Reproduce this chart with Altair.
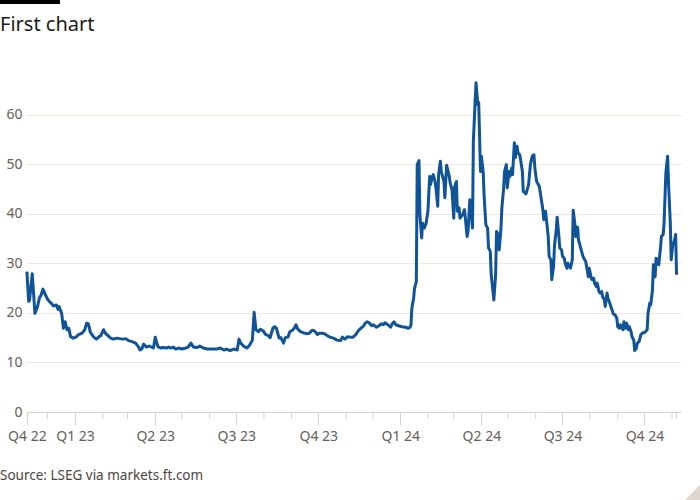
import altair as alt
import pandas as pd

# ---- data ----
START = "2022-11-08"
DAYS = [0, 2, 3, 6, 7, 9, 12, 14, 16, 18, 21, 23, 25, 27, 30, 33, 35, 36, 39, 41,
        43, 45, 47, 49, 52, 55, 58, 62, 65, 67, 69, 71, 73, 75, 78, 81, 83, 86, 88, 91,
        94, 97, 101, 104, 108, 111, 114, 118, 122, 125, 127, 129, 131, 134, 137, 140, 142, 144, 147, 150,
        153, 157, 159, 161, 164, 167, 170, 174, 178, 181, 184, 187, 191, 194, 198, 202, 207, 213, 217, 221,
        224, 228, 232, 236, 238, 240, 243, 247, 250, 253, 255, 257, 260, 262, 265, 268, 271, 273, 276, 278,
        280, 283, 285, 288, 290, 293, 295, 298, 300, 302, 304, 307, 310, 314, 317, 320, 323, 326, 328, 331,
        334, 337, 340, 344, 348, 352, 354, 357, 360, 363, 366, 369, 371, 373, 375, 378, 380, 382, 384, 387,
        389, 392, 395, 398, 400, 402, 405, 408, 410, 412, 414, 417, 421, 425, 428, 430, 431, 432, 434, 435,
        437, 438, 440, 441, 443, 444, 446, 448, 450, 452, 453, 455, 456, 458, 459, 461, 462, 464, 465, 468,
        469, 471, 474, 475, 477, 479, 480, 482, 483, 485, 486, 489, 491, 492, 494, 495, 497, 498, 500, 501,
        503, 504, 506, 507, 509, 510, 512, 513, 515, 517, 518, 520, 521, 524, 526, 527, 529, 530, 532, 533,
        535, 536, 538, 539, 541, 542, 544, 545, 547, 548, 550, 551, 553, 554, 556, 557, 559, 560, 562, 563,
        565, 567, 569, 570, 572, 573, 575, 577, 579, 580, 582, 583, 585, 586, 588, 589, 591, 592, 594, 595,
        597, 598, 600, 601, 603, 604, 606, 607, 609, 610, 612, 613, 615, 616, 618, 619, 621, 622, 624, 625,
        627, 628, 630, 631, 633, 634, 636, 637, 639, 640, 642, 643, 645, 646, 648, 649, 651, 652, 654, 656,
        658, 660, 662, 663, 665, 666, 669, 670, 672, 673, 675, 676, 678, 679, 681, 682, 684, 685, 687, 689,
        691, 693, 696, 697, 699, 700, 702, 703, 705, 706, 708, 709, 711, 712, 714, 715, 717, 719, 720, 722,
        723, 725, 726, 728, 729]
VALUES = [28.3, 22.3, 22.6, 27.9, 25.3, 19.9, 21.3, 23.0, 23.6, 24.8, 23.6, 22.8, 22.3, 22.0, 21.4, 21.6, 20.7, 21.3, 19.9, 16.9,
          18.2, 16.6, 16.9, 15.2, 14.9, 15.1, 15.6, 15.9, 16.6, 17.9, 17.8, 16.2, 15.6, 15.1, 14.7, 15.2, 15.4, 16.6, 15.9, 15.4,
          14.9, 14.7, 14.9, 14.8, 14.7, 14.8, 14.4, 14.2, 13.9, 13.2, 12.5, 12.7, 13.7, 13.1, 13.3, 13.1, 12.9, 15.1, 13.2, 12.9,
          13.0, 12.9, 13.1, 12.9, 13.1, 12.7, 12.9, 12.7, 12.9, 13.1, 13.9, 13.1, 13.0, 13.3, 12.9, 12.7, 12.7, 12.7, 12.9, 12.5,
          12.7, 12.4, 12.7, 12.5, 14.7, 13.9, 13.3, 12.9, 13.5, 14.5, 20.1, 16.6, 16.2, 16.7, 16.4, 15.6, 15.4, 15.0, 16.9, 17.2,
          16.9, 14.9, 15.0, 13.9, 15.0, 15.1, 16.2, 16.5, 16.9, 17.6, 16.7, 16.2, 16.0, 15.8, 15.9, 16.5, 16.3, 15.6, 15.9, 15.9,
          15.8, 15.4, 15.1, 14.9, 14.5, 14.4, 15.1, 14.7, 15.2, 15.1, 15.1, 15.6, 16.2, 16.6, 16.9, 17.4, 18.0, 18.2, 18.0, 17.4,
          17.6, 17.1, 17.4, 17.8, 17.6, 18.0, 17.6, 17.1, 17.8, 18.2, 17.6, 17.4, 17.2, 17.1, 16.9, 17.1, 17.6, 21.0, 23.0, 25.0,
          26.3, 49.9, 50.7, 39.8, 35.1, 38.1, 37.1, 38.1, 40.5, 47.5, 45.9, 47.5, 47.9, 46.5, 45.2, 41.5, 47.9, 50.6, 48.5, 46.5,
          43.2, 49.8, 47.5, 46.2, 44.8, 39.1, 45.5, 46.5, 40.5, 41.2, 39.1, 39.8, 40.8, 39.1, 35.4, 36.4, 42.8, 41.5, 37.1, 54.6,
          62.7, 66.4, 62.0, 62.4, 48.5, 51.6, 48.5, 43.8, 37.8, 37.1, 33.1, 32.4, 27.7, 22.6, 27.7, 36.4, 35.8, 32.7, 37.1, 41.2,
          45.2, 48.5, 49.9, 45.2, 48.5, 47.5, 49.2, 47.9, 54.3, 51.3, 53.6, 52.3, 51.9, 50.9, 48.5, 44.5, 44.2, 44.0, 45.2, 45.9,
          49.9, 51.6, 51.9, 49.2, 46.5, 46.2, 45.5, 43.2, 40.8, 38.8, 40.5, 38.8, 35.4, 31.4, 30.7, 26.7, 29.4, 33.4, 36.8, 39.3,
          35.4, 33.1, 32.7, 31.4, 31.0, 30.0, 29.0, 30.0, 29.4, 29.0, 30.7, 40.7, 37.8, 35.4, 37.3, 34.7, 33.4, 32.7, 31.4, 31.0,
          30.4, 29.4, 27.3, 29.0, 27.3, 26.7, 27.0, 26.0, 25.3, 26.0, 24.3, 24.0, 24.3, 23.3, 22.6, 21.3, 24.0, 23.0, 22.0, 20.9,
          19.8, 19.6, 18.9, 17.2, 16.9, 17.6, 16.6, 18.2, 16.9, 17.9, 16.6, 17.2, 16.2, 15.2, 14.5, 12.4, 12.9, 13.9, 14.2, 15.6,
          16.0, 16.0, 16.6, 19.9, 22.0, 21.6, 24.6, 29.7, 27.3, 31.0, 30.7, 29.7, 33.1, 35.4, 35.8, 38.1, 48.2, 51.6, 46.2, 38.1,
          30.7, 34.1, 34.1, 35.8, 27.7]

Y_TICKS = [0, 10, 20, 30, 40, 50, 60]
X_DOMAIN = ["2022-11-07", "2024-11-11"]
QUARTER_TICKS = ["2022-11-08", "2023-01-01", "2023-04-01", "2023-07-01", "2023-10-01",
                 "2024-01-01", "2024-04-01", "2024-07-01", "2024-10-01"]
MONTH_TICKS = ["2022-12-01", "2023-02-01", "2023-03-01", "2023-05-01", "2023-06-01",
               "2023-08-01", "2023-09-01", "2023-11-01", "2023-12-01", "2024-02-01",
               "2024-03-01", "2024-05-01", "2024-06-01", "2024-08-01", "2024-09-01",
               "2024-11-01", "2024-11-06"]
TITLE = "First chart"
SOURCE = "Source: LSEG via markets.ft.com"

# ---- build ----
def ms(s):
    return int(pd.Timestamp(s, tz="UTC").value // 10**6)

dates = (pd.Timestamp(START) + pd.to_timedelta(DAYS, unit="D")).strftime("%Y-%m-%d")
df = pd.DataFrame({"date": dates, "value": VALUES})
minor = pd.DataFrame({"date": MONTH_TICKS})
one = pd.DataFrame({"a": [0]})

W, H = 655, 347
FONT = "Noto Sans"
LABEL = "#66605c"
AXIS_LINE = "#d8d2cc"
GRID = "#f2e5dc"

xscale = alt.Scale(domain=[ms(X_DOMAIN[0]), ms(X_DOMAIN[1])], nice=False)
xaxis = alt.Axis(values=[ms(s) for s in QUARTER_TICKS], title=None, grid=False,
                 labelExpr="'Q' + utcquarter(datum.value) + ' ' + utcFormat(datum.value, '%y')",
                 tickSize=13, tickColor=AXIS_LINE, domainColor=AXIS_LINE,
                 labelPadding=4, labelFontSize=14, labelFont=FONT, labelColor=LABEL,
                 labelFlush=False, labelOverlap=False)

line = alt.Chart(df).mark_line(color="#0f5499", strokeWidth=3, strokeJoin="round").encode(
    x=alt.X("date:T", scale=xscale, axis=xaxis),
    y=alt.Y("value:Q", scale=alt.Scale(domain=[0, 70], nice=False),
            axis=alt.Axis(values=Y_TICKS, title=None, grid=True, gridColor=GRID, domain=False,
                          ticks=False, labelPadding=4, labelFontSize=14, labelFont=FONT,
                          labelColor=LABEL)),
)

minor_ticks = alt.Chart(minor).mark_rule(color=AXIS_LINE, strokeWidth=1).encode(
    x=alt.X("date:T", scale=xscale, axis=xaxis),
    y=alt.value(H),
    y2=alt.value(H + 7),
)

bar = alt.Chart(one).mark_rect(color="#000000").encode(
    x=alt.value(-26), x2=alt.value(34), y=alt.value(-65), y2=alt.value(-61))

title = alt.Chart(one).mark_text(text=TITLE, align="left", baseline="alphabetic",
                                 fontSize=20, font=FONT, color="#1a1a1a").encode(
    x=alt.value(-26), y=alt.value(-34))

source = alt.Chart(one).mark_text(text=SOURCE, align="left", baseline="alphabetic",
                                  fontSize=13.5, font=FONT, color="#4a4542").encode(
    x=alt.value(-26), y=alt.value(415))

corner = alt.Chart(one).mark_point(shape="M 1 -1 L 1 1 L -1 1 Z", filled=True, size=225,
                                   color="#ddd5ce", opacity=1).encode(
    x=alt.value(666.5), y=alt.value(427.5))

chart = alt.layer(minor_ticks, line, bar, title, source, corner).properties(
    width=W, height=H,
    autosize=alt.AutoSizeParams(type="none"),
    padding={"left": 26, "top": 65, "right": 19, "bottom": 88},
    background="#ffffff",
).configure_view(stroke=None)

chart.save("out.html", embed_options={"renderer": "svg", "actions": False})
